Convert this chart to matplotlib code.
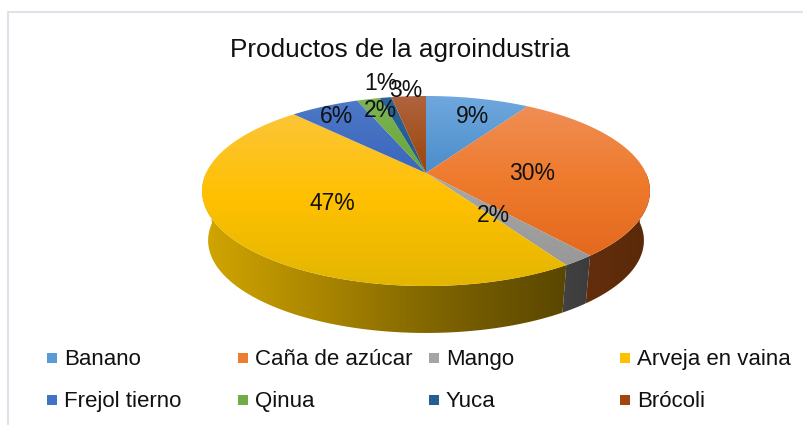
import numpy as np
import matplotlib
matplotlib.use('Agg')
import matplotlib.pyplot as plt
from matplotlib.colors import LinearSegmentedColormap
from matplotlib.patches import Polygon

plt.rcParams['font.family'] = ['Liberation Sans', 'DejaVu Sans']

categories = ['Banano', 'Caña de azúcar', 'Mango', 'Arveja en vaina',
              'Frejol tierno', 'Qinua', 'Yuca', 'Brócoli']
shares = [9, 30, 2, 47, 6, 2, 1, 3]
labels = ['9%', '30%', '2%', '47%', '6%', '2%', '1%', '3%']

# colours of each top face, upper edge to lower edge
top_colors = [['#70A8DE', '#4A8DCB'],
              ['#F08E55', '#EE7A2C', '#E4691E'],
              ['#A8A8A8', '#989898'],
              ['#FCC537', '#FFC000', '#E3B600'],
              ['#4E79C8', '#3A66BC'],
              ['#7CB356', '#68A636'],
              ['#2A6499', '#23588A'],
              ['#B0643F', '#9A4509']]
wall_colors = [['#3C6E9E', '#2A5580'],
               ['#642E0C', '#592909'],
               ['#424242', '#3C3C3C'],
               ['#D2A600', '#A98500', '#7C6200', '#5A4600'],
               ['#2A4A88', '#23407A'],
               ['#4C7A2A', '#426C24'],
               ['#1B4468', '#173B5A'],
               ['#6E300A', '#5E2908']]
legend_colors = ['#5B9BD5', '#ED7D31', '#A5A5A5', '#FFC000',
                 '#4472C4', '#70AD47', '#255E91', '#9E480E']

label_xy = [(473, 116), (532, 173), (493, 215), (332, 203),
            (337, 116), (380, 110), (381, 83), (406, 90)]
legend_x = [47, 238, 429, 620]
legend_y = [358, 400]

# apex of the pie and the perspective of the tilted disc, in pixels
cx, cy = 426, 173
A, B, k = 219.9, 91.6, 0.1895
depth, wall_scale = 50, 0.973


def rim(theta, scale=1.0, drop=0.0):
    u = np.sin(theta)
    v = np.cos(theta)
    d = 1 + k * v
    return cx + scale * A * u / d, cy + drop - scale * B * v / d


def gradient_fill(ax, xs, ys, colors, horizontal=False, zorder=2):
    cmap = LinearSegmentedColormap.from_list('g', colors)
    grad = np.linspace(0, 1, 256)
    grad = grad.reshape(1, -1) if horizontal else grad.reshape(-1, 1)
    im = ax.imshow(grad, cmap=cmap, aspect='auto', zorder=zorder,
                   extent=(min(xs), max(xs), max(ys), min(ys)),
                   interpolation='bilinear')
    poly = Polygon(np.column_stack([xs, ys]), closed=True, transform=ax.transData,
                   fc='none', ec='none')
    ax.add_patch(poly)
    im.set_clip_path(poly)


fig = plt.figure(figsize=(8.04, 4.25), dpi=100)
ax = fig.add_axes([0, 0, 1, 1])

edges = np.cumsum([0] + shares) / sum(shares) * 2 * np.pi

# walls first, only the part that faces the viewer
for i in range(len(shares)):
    th = np.linspace(edges[i], edges[i + 1], 120)
    th = th[np.cos(th) < 0.02]
    if len(th) < 2:
        continue
    x1, y1 = rim(th)
    x2, y2 = rim(th, wall_scale, depth)
    xs = np.concatenate([x1, x2[::-1]])
    ys = np.concatenate([y1, y2[::-1]])
    gradient_fill(ax, xs, ys, wall_colors[i], horizontal=True, zorder=2)

# top face
for i in range(len(shares)):
    th = np.linspace(edges[i], edges[i + 1], 200)
    x1, y1 = rim(th)
    xs = np.concatenate([[cx], x1])
    ys = np.concatenate([[cy], y1])
    gradient_fill(ax, xs, ys, top_colors[i], zorder=3)

for (x, y), lab in zip(label_xy, labels):
    ax.text(x, y, lab, fontsize=16.5, color='#111111', ha='center', va='center', zorder=5)

ax.text(400, 50, 'Productos de la agroindustria', fontsize=18.8, color='#111111',
        ha='center', va='center', zorder=5)

for i, name in enumerate(categories):
    col, row = i % 4, i // 4
    ax.scatter(legend_x[col] + 5, legend_y[row], marker='s', s=52, linewidths=0,
               color=legend_colors[i], zorder=5)
    ax.text(legend_x[col] + 17, legend_y[row] + 7, name, fontsize=16, color='#111111',
            ha='left', va='baseline', zorder=5)

# chart frame
ax.plot([8, 8, 804], [425, 12, 12], color='#DEE3EA', lw=1.5, zorder=1)

ax.set_xlim(0, 804)
ax.set_ylim(425, 0)
ax.axis('off')

plt.savefig('out.png', dpi=100)
